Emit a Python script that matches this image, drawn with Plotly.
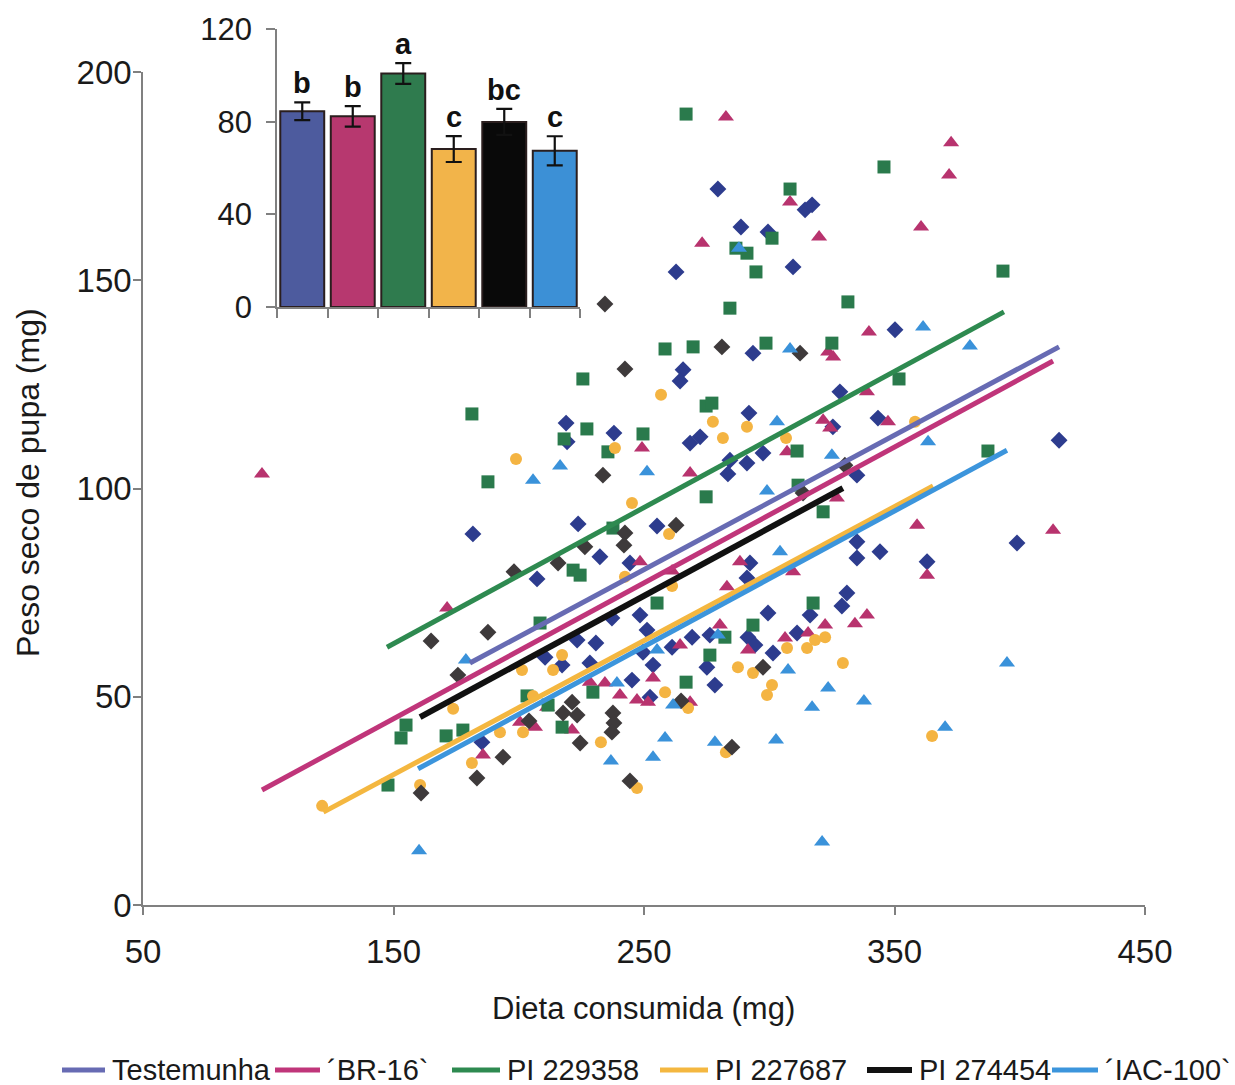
import plotly.graph_objects as go

# ---------------- data ----------------
series = ["Testemunha", "´BR-16`", "PI 229358", "PI 227687", "PI 274454", "´IAC-100`"]

# diet consumed (mg) vs pupal dry weight (mg), per genotype
testemunha_x = [279.5, 314.3, 317.1, 288.7, 299.5, 262.8, 309.5, 293.5, 265.6, 264.4, 350.2, 218.9,
                219.3, 238.0, 268.4, 272.4, 223.7, 181.7, 255.2, 232.4, 244.4, 291.9, 328.2, 343.4,
                325.4, 284.3, 291.1, 283.5, 297.5, 335.0, 207.3, 335.0, 335.0, 344.2, 292.3, 291.1,
                299.5, 248.4, 251.2, 230.8, 331.0, 329.0, 316.3, 311.1, 261.2, 269.2, 276.3, 291.5,
                294.3, 301.5, 217.3, 228.4, 249.6, 253.6, 275.1, 415.7, 363.0, 398.9, 245.2, 278.3,
                252.4, 237.2, 223.3, 210.5, 185.3]
testemunha_y = [171.9, 166.9, 168.1, 162.8, 161.6, 152.0, 153.2, 132.5, 128.5, 125.8, 138.1, 115.7,
                111.2, 113.3, 110.9, 112.4, 91.5, 89.1, 91.0, 83.6, 82.1, 118.1, 123.2, 116.9,
                114.8, 106.8, 106.1, 103.5, 108.5, 103.2, 78.3, 87.2, 83.3, 84.8, 82.1, 78.5,
                70.1, 69.6, 66.0, 62.9, 74.9, 71.8, 69.6, 65.3, 61.9, 64.3, 64.8, 64.3,
                62.4, 60.5, 57.6, 58.1, 60.7, 57.6, 57.1, 111.6, 82.4, 86.9, 54.0, 52.8,
                49.9, 68.9, 63.6, 59.5, 39.1]

br16_x = [97.5, 282.7, 372.6, 371.8, 360.6, 308.3, 319.9, 273.2, 323.5, 325.5, 339.8, 339.0,
          321.5, 324.3, 347.4, 307.1, 359.0, 413.3, 363.0, 249.2, 268.4, 248.4, 261.2, 288.3,
          283.1, 309.5, 327.0, 280.3, 264.4, 291.5, 306.3, 315.5, 322.3, 334.2, 339.0, 253.6,
          234.4, 240.4, 247.2, 251.6, 268.4, 171.4, 228.4, 211.3, 206.5, 221.3, 200.5, 185.7]
br16_y = [103.5, 189.2, 183.0, 175.3, 162.8, 168.8, 160.4, 158.9, 132.8, 131.6, 137.6, 123.2,
          116.4, 114.5, 116.0, 108.8, 91.2, 90.0, 79.2, 109.7, 103.7, 82.4, 80.2, 82.4,
          76.4, 80.0, 97.7, 67.2, 62.4, 61.2, 64.1, 65.3, 67.2, 67.5, 69.6, 54.5,
          53.3, 50.4, 49.2, 48.7, 48.7, 71.3, 53.5, 47.5, 42.7, 42.0, 43.9, 36.0]

pi229358_x = [266.8, 345.8, 308.3, 301.1, 286.7, 291.1, 294.7, 284.3, 331.4, 258.4, 269.6, 298.7,
              325.0, 225.6, 393.3, 351.8, 181.3, 227.2, 218.1, 249.6, 235.6, 187.7, 274.8, 277.1,
              274.8, 311.1, 311.5, 321.5, 387.3, 237.6, 221.7, 224.5, 255.2, 208.5, 276.3, 293.5,
              317.5, 282.3, 266.8, 229.6, 203.3, 211.7, 217.3, 155.0, 153.0, 171.0, 177.7, 147.8]
pi229358_y = [189.9, 177.2, 171.9, 160.1, 157.7, 156.5, 152.0, 143.3, 144.8, 133.5, 134.0, 134.9,
              134.9, 126.3, 152.2, 126.3, 117.9, 114.3, 111.9, 113.1, 108.8, 101.6, 119.8, 120.5,
              98.0, 109.0, 100.8, 94.4, 109.0, 90.5, 80.4, 79.2, 72.5, 67.7, 60.0, 67.2,
              72.5, 64.3, 53.5, 51.1, 50.2, 48.0, 42.7, 43.2, 40.1, 40.6, 42.0, 28.8]

pi227687_x = [256.8, 277.5, 291.1, 281.5, 306.7, 358.2, 198.9, 238.4, 245.2, 260.0, 242.4, 261.2,
              217.3, 213.7, 201.3, 287.5, 293.5, 307.1, 315.1, 318.3, 322.3, 329.4, 301.1, 299.1,
              258.4, 267.6, 205.7, 173.8, 201.7, 192.5, 181.3, 160.6, 232.8, 247.2, 365.0, 282.7,
              121.5]
pi227687_y = [122.5, 116.0, 114.8, 112.1, 112.1, 116.0, 107.1, 109.7, 96.5, 89.1, 78.8, 76.6,
              60.0, 56.4, 56.4, 57.1, 55.7, 61.7, 61.7, 63.6, 64.3, 58.1, 52.8, 50.4,
              51.1, 47.3, 50.2, 47.1, 41.5, 41.5, 34.1, 28.8, 39.1, 28.1, 40.6, 36.7,
              23.8]

pi274454_x = [234.4, 242.4, 281.1, 312.3, 233.6, 262.8, 242.4, 242.0, 226.4, 215.7, 198.1, 297.5,
              330.2, 313.5, 187.7, 165.0, 175.7, 221.3, 217.7, 223.3, 204.1, 237.6, 238.0, 237.2,
              224.5, 193.7, 183.3, 161.0, 244.4, 264.8, 285.1]
pi274454_y = [144.3, 128.7, 134.0, 132.5, 103.2, 91.2, 89.3, 86.4, 86.0, 82.1, 80.0, 57.1,
              105.6, 98.9, 65.5, 63.4, 55.2, 48.7, 46.1, 45.6, 44.2, 46.1, 43.7, 41.5,
              38.9, 35.5, 30.5, 26.9, 29.8, 49.0, 37.9]

iac100_x = [160.2, 321.1, 370.2, 394.9, 307.5, 323.5, 317.1, 337.8, 258.4, 278.3, 302.7, 253.6,
            236.8, 261.6, 239.2, 304.3, 279.5, 255.2, 303.1, 216.5, 205.7, 251.2, 299.1, 325.0,
            363.4, 361.4, 380.1, 287.9, 308.3, 178.9]
iac100_y = [13.0, 15.1, 42.7, 58.1, 56.4, 52.1, 47.5, 49.0, 40.1, 39.1, 39.6, 35.5,
            34.6, 48.0, 53.3, 84.8, 64.8, 61.2, 116.0, 105.4, 102.0, 104.0, 99.4, 108.0,
            111.2, 138.8, 134.2, 157.7, 133.5, 58.8]

# fitted regression segments (start / end of each line)
fit_x0 = [180.5, 97.5, 147.4, 122.0, 160.6, 159.8]
fit_x1 = [415.7, 413.3, 393.7, 365.4, 329.4, 394.9]
fit_y0 = [58.1, 27.6, 61.9, 22.3, 45.1, 32.7]
fit_y1 = [134.0, 130.6, 142.4, 100.6, 100.1, 109.2]

# inset: mean pupal dry weight (mg) with standard error and test letters
bar_means = [84.5, 82.3, 100.8, 68.2, 79.9, 67.4]
bar_se = [3.8, 4.4, 4.5, 5.6, 5.6, 6.3]
bar_letters = ["b", "b", "a", "c", "bc", "c"]

# ---------------- styles ----------------
FONT = "Liberation Sans, Arial, sans-serif"
marker_colors = ["#2D3C8E", "#B8336E", "#2A7A4C", "#F4B442", "#3E3A3B", "#3A92DA"]
marker_symbols = ["diamond", "triangle-up", "square", "circle", "diamond", "triangle-up"]
marker_sizes = [13, 14, 13, 12, 13, 14]
line_colors = ["#676BB3", "#C0357A", "#2E8A50", "#F4B740", "#111111", "#3C95DC"]
line_widths = [5, 5, 5, 5, 6, 5]
bar_colors = ["#4D5B9E", "#B7386F", "#2F7B4E", "#F2B44A", "#090909", "#3C90D6"]

xs = [testemunha_x, br16_x, pi229358_x, pi227687_x, pi274454_x, iac100_x]
ys = [testemunha_y, br16_y, pi229358_y, pi227687_y, pi274454_y, iac100_y]

W, H = 1235, 1085
fig = go.Figure()

# scatter of individual insects
for i, name in enumerate(series):
    fig.add_trace(go.Scatter(
        x=xs[i], y=ys[i], mode="markers", name=name, showlegend=False,
        marker=dict(symbol=marker_symbols[i], size=marker_sizes[i], color=marker_colors[i],
                    line=dict(width=0)),
        xaxis="x", yaxis="y"))

# regression lines
for i, name in enumerate(series):
    fig.add_trace(go.Scatter(
        x=[fit_x0[i], fit_x1[i]], y=[fit_y0[i], fit_y1[i]], mode="lines", name=name,
        showlegend=False, line=dict(color=line_colors[i], width=line_widths[i]),
        xaxis="x", yaxis="y"))

# inset bar chart
fig.add_trace(go.Bar(
    x=series, y=bar_means, xaxis="x2", yaxis="y2", showlegend=False,
    marker=dict(color=bar_colors, line=dict(color="#2A1E1E", width=2)),
    error_y=dict(type="data", array=bar_se, color="#111111", thickness=2.2, width=8)))

annotations = []
for cat, m, s, lab in zip(series, bar_means, bar_se, bar_letters):
    annotations.append(dict(
        x=cat, y=m + s, xref="x2", yref="y2", text="<b>%s</b>" % lab, showarrow=False,
        xanchor="center", yanchor="bottom", yshift=1,
        font=dict(family=FONT, size=29, color="#111111")))

# axis titles
annotations.append(dict(x=643 / W, y=1 - 1008 / H, xref="paper", yref="paper",
                        text="Dieta consumida (mg)", showarrow=False,
                        xanchor="center", yanchor="middle",
                        font=dict(family=FONT, size=31, color="#1a1a1a")))
annotations.append(dict(x=28 / W, y=1 - 483 / H, xref="paper", yref="paper",
                        text="Peso seco de pupa (mg)", showarrow=False, textangle=-90,
                        xanchor="center", yanchor="middle",
                        font=dict(family=FONT, size=32, color="#1a1a1a")))

# legend drawn along the bottom edge
legend_line_px = [(62, 105), (275, 320), (452, 500), (660, 708), (867, 912), (1052, 1098)]
legend_text_px = [110, 325, 505, 713, 917, 1103]
shapes = []
ly = 1 - 1070 / H
for i, name in enumerate(series):
    x0, x1 = legend_line_px[i]
    shapes.append(dict(type="line", xref="paper", yref="paper", x0=x0 / W, x1=x1 / W,
                       y0=ly, y1=ly, line=dict(color=line_colors[i], width=line_widths[i])))
    annotations.append(dict(x=legend_text_px[i] / W, y=ly, xref="paper", yref="paper",
                            text=name, showarrow=False, xanchor="left", yanchor="middle",
                            font=dict(family=FONT, size=29, color="#1a1a1a")))

axis_common = dict(showgrid=False, zeroline=False, showline=True, linecolor="#808080",
                   linewidth=1.5, ticks="outside", tickcolor="#808080", tickwidth=1.5,
                   automargin=False)

fig.update_layout(
    template="none",
    width=W, height=H, margin=dict(l=0, r=0, t=0, b=0, pad=0), autosize=False,
    paper_bgcolor="white", plot_bgcolor="white",
    font=dict(family=FONT, color="#1a1a1a"),
    bargap=0.13,
    xaxis=dict(domain=[143 / W, 1145 / W], range=[50, 450], tickvals=[50, 150, 250, 350, 450],
               ticklen=8, tickfont=dict(size=33), ticklabelstandoff=9, anchor="y",
               **axis_common),
    yaxis=dict(domain=[1 - 905 / H, 1 - 72 / H], range=[0, 200], tickvals=[0, 50, 100, 150, 200],
               ticklen=8, tickfont=dict(size=33), ticklabelstandoff=-5, anchor="x",
               **axis_common),
    xaxis2=dict(domain=[277 / W, 580 / W], type="category", tickson="boundaries", ticklen=9,
                showticklabels=False, anchor="y2", **axis_common),
    yaxis2=dict(domain=[1 - 307 / H, 1 - 29 / H], range=[0, 120], tickvals=[0, 40, 80, 120],
                ticklen=9, tickfont=dict(size=31), ticklabelstandoff=8, anchor="x2",
                **axis_common),
    annotations=annotations, shapes=shapes,
)

fig.write_html("out.html")
